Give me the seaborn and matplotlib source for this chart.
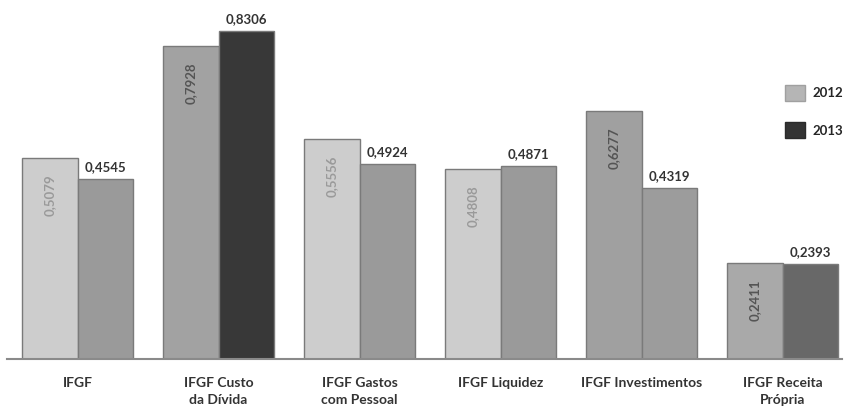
import matplotlib
matplotlib.use("Agg")
import matplotlib.pyplot as plt
import seaborn as sns
import pandas as pd
from matplotlib.patches import Patch

sns.set_theme(style="white")
plt.rcParams["font.family"] = ["Lato", "DejaVu Sans"]

indicadores = ["IFGF", "IFGF Custo\nda Dívida", "IFGF Gastos\ncom Pessoal",
               "IFGF Liquidez", "IFGF Investimentos", "IFGF Receita\nPrópria"]
anos = ["2012", "2013"]
valores_2012 = [0.5079, 0.7928, 0.5556, 0.4808, 0.6277, 0.2411]
valores_2013 = [0.4545, 0.8306, 0.4924, 0.4871, 0.4319, 0.2393]
rotulos_2012 = ["0,5079", "0,7928", "0,5556", "0,4808", "0,6277", "0,2411"]
rotulos_2013 = ["0,4545", "0,8306", "0,4924", "0,4871", "0,4319", "0,2393"]

# fill shade of each bar (per indicator)
cores_2012 = ["#cdcdcd", "#a2a2a2", "#cdcdcd", "#cdcdcd", "#a0a0a0", "#a9a9a9"]
cores_2013 = ["#9a9a9a", "#383838", "#9a9a9a", "#9a9a9a", "#9c9c9c", "#686868"]
cores_texto_2012 = ["#9a9a9a", "#555555", "#9a9a9a", "#9a9a9a", "#555555", "#555555"]

df = pd.DataFrame({
    "indicador": indicadores * 2,
    "ano": [anos[0]] * 6 + [anos[1]] * 6,
    "valor": valores_2012 + valores_2013,
})

fig = plt.figure(figsize=(8.44, 4.08), dpi=100)
ax = fig.add_axes([7 / 844, (408 - 358.5) / 408, (842 - 7) / 844, 358.5 / 408])

sns.barplot(data=df, x="indicador", y="valor", hue="ano", order=indicadores,
            hue_order=anos, width=0.79, dodge=True, ax=ax, legend=False,
            edgecolor="#7a7a7a", linewidth=1.0, errorbar=None)

for patch, cor in zip(ax.containers[0], cores_2012):
    patch.set_facecolor(cor)
for patch, cor in zip(ax.containers[1], cores_2013):
    patch.set_facecolor(cor)

# 2012 labels: rotated, inside the bar near its top
for patch, txt, cor in zip(ax.containers[0], rotulos_2012, cores_texto_2012):
    cx = patch.get_x() + patch.get_width() / 2
    ax.text(cx, patch.get_height() - 0.042, txt, rotation=90, ha="center",
            va="top", fontsize=9.5, color=cor, fontweight="bold")

# 2013 labels: horizontal, above the bar
for patch, txt in zip(ax.containers[1], rotulos_2013):
    cx = patch.get_x() + patch.get_width() / 2
    ax.text(cx, patch.get_height() + 0.015, txt, ha="center", va="bottom",
            fontsize=9.5, color="#333333", fontweight="bold")

ax.set_ylim(0, 0.909)
ax.set_xlim(-0.5, 5.42)
ax.set_yticks([])
ax.set_xlabel("")
ax.set_ylabel("")
for lado in ["top", "right", "left"]:
    ax.spines[lado].set_visible(False)
ax.spines["bottom"].set_color("#8a8a8a")
ax.spines["bottom"].set_linewidth(1.5)
ax.tick_params(axis="x", length=0, pad=13)
for lbl in ax.get_xticklabels():
    lbl.set_fontsize(10)
    lbl.set_fontweight("bold")
    lbl.set_color("#333333")
    lbl.set_linespacing(1.5)
    lbl.set_va("top")

handles = [Patch(facecolor="#b5b5b5", edgecolor="#a0a0a0"),
           Patch(facecolor="#333333", edgecolor="#2a2a2a")]
fig.legend(handles, anos, loc="upper left", bbox_to_anchor=(785 / 844, 1 - 85 / 408),
           frameon=False, handlelength=1.5, handleheight=1.5, borderpad=0,
           borderaxespad=0, labelspacing=1.6, handletextpad=0.55,
           prop={"weight": "bold", "size": 9.5})

fig.savefig("out.png", dpi=100)
